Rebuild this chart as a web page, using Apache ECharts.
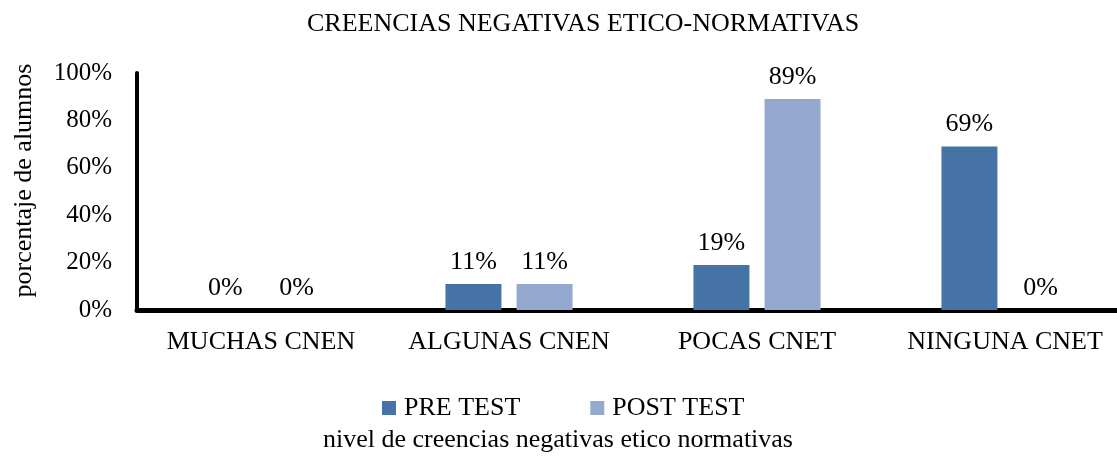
<!DOCTYPE html>
<html>
<head>
<meta charset="utf-8">
<script src="https://cdn.jsdelivr.net/npm/echarts@6/dist/echarts.min.js"></script>
<style>
	html, body { margin: 0; padding: 0; background: #fff; }
	#chartDiv { width: 1117px; height: 460px; }
</style>
</head>
<body>
<div id="chartDiv"></div>
<script>
	var categories = ['MUCHAS CNEN', 'ALGUNAS CNEN', 'POCAS CNET', 'NINGUNA CNET'];
	var preTest = [0, 11, 19, 69];
	var postTest = [0, 11, 89, 0];
	var yTicks = [0, 20, 40, 60, 80, 100];

	var serif = '"Liberation Serif", "Times New Roman", serif';
	var labelOpt = {
		show : true,
		position : 'top',
		distance : 9,
		color : '#000',
		fontFamily : serif,
		fontSize : 26,
		formatter : function(p) { return p.value + '%'; }
	};

	var chart = echarts.init(document.getElementById('chartDiv'));
	chart.setOption({
		animation : false,
		textStyle : { fontFamily : serif, color : '#000' },
		title : {
			text : 'CREENCIAS NEGATIVAS ETICO-NORMATIVAS',
			left : 302,
			top : 6,
			textStyle : { fontFamily : serif, fontSize : 26, fontWeight : 'normal', color : '#000' }
		},
		legend : {
			top : 390,
			left : 377,
			itemWidth : 14,
			itemHeight : 14,
			itemGap : 70,
			icon : 'rect',
			textStyle : { fontFamily : serif, fontSize : 26, color : '#000', padding : [0, 0, 0, 3] },
			data : ['PRE TEST', 'POST TEST']
		},
		grid : { left : 137, top : 73, width : 992, height : 237, outerBoundsMode : 'none' },
		xAxis : {
			type : 'category',
			data : categories,
			name : 'nivel de creencias negativas etico normativas',
			nameLocation : 'middle',
			nameGap : 117,
			nameTextStyle : { fontFamily : serif, fontSize : 26, color : '#000', padding : [0, 150, 0, 0] },
			axisLine : { lineStyle : { color : '#000', width : 5 } },
			axisTick : { show : false },
			axisLabel : { interval : 0, fontFamily : serif, fontSize : 26, color : '#000', margin : 19 }
		},
		yAxis : {
			type : 'value',
			min : yTicks[0],
			max : yTicks[yTicks.length - 1],
			interval : 20,
			name : 'porcentaje de alumnos',
			nameLocation : 'middle',
			nameGap : 100,
			nameRotate : 90,
			nameTextStyle : { fontFamily : serif, fontSize : 26, color : '#000', padding : [0, 0, 0, 22] },
			axisLine : { show : true, lineStyle : { color : '#000', width : 4 } },
			axisTick : { show : false },
			splitLine : { show : false },
			axisLabel : { fontFamily : serif, fontSize : 25, color : '#000', margin : 25, formatter : '{value}%' }
		},
		series : [{
			name : 'PRE TEST',
			type : 'bar',
			data : preTest,
			barWidth : 56,
			barGap : '27%',
			itemStyle : { color : '#4673a6' },
			label : labelOpt
		}, {
			name : 'POST TEST',
			type : 'bar',
			data : postTest,
			barWidth : 56,
			itemStyle : { color : '#95a9cf' },
			label : labelOpt
		}]
	});
</script>
</body>
</html>
